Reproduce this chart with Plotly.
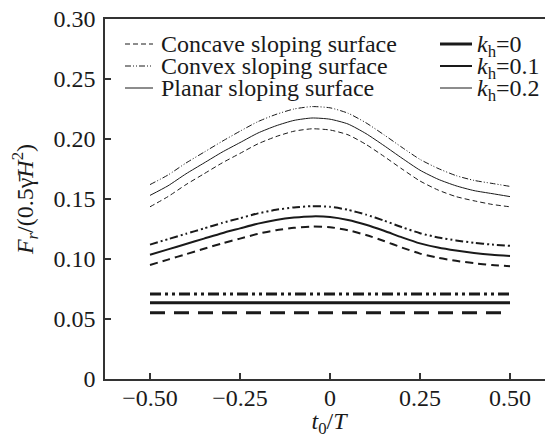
import plotly.graph_objects as go

# ---------------- data ----------------
t = [-0.50, -0.45, -0.40, -0.35, -0.30, -0.25, -0.20, -0.15, -0.10, -0.05, 0.00,
     0.05, 0.10, 0.15, 0.20, 0.25, 0.30, 0.35, 0.40, 0.45, 0.50]

# kh = 0.2
planar_02 = [0.153, 0.161, 0.171, 0.180, 0.189, 0.197, 0.205, 0.211, 0.2155, 0.2175, 0.2165,
             0.2125, 0.2045, 0.1945, 0.184, 0.174, 0.1665, 0.161, 0.157, 0.1545, 0.152]
convex_02 = [0.162, 0.170, 0.180, 0.189, 0.198, 0.2065, 0.2145, 0.2205, 0.225, 0.227, 0.226,
             0.2215, 0.2135, 0.2035, 0.193, 0.183, 0.1755, 0.1695, 0.1655, 0.163, 0.1605]
concave_02 = [0.1435, 0.152, 0.162, 0.171, 0.180, 0.188, 0.196, 0.202, 0.2065, 0.2085, 0.2075,
              0.2035, 0.1955, 0.1855, 0.175, 0.165, 0.1575, 0.152, 0.1485, 0.1455, 0.1435]

# kh = 0.1
planar_01 = [0.1035, 0.108, 0.1125, 0.117, 0.1215, 0.1255, 0.1295, 0.1325, 0.1345, 0.1355, 0.135,
             0.1325, 0.1285, 0.1235, 0.118, 0.113, 0.1095, 0.107, 0.105, 0.1035, 0.1025]
convex_01 = [0.112, 0.1165, 0.121, 0.1255, 0.130, 0.134, 0.138, 0.141, 0.143, 0.144, 0.1435,
             0.141, 0.137, 0.132, 0.1265, 0.1215, 0.118, 0.1155, 0.1135, 0.112, 0.111]
concave_01 = [0.095, 0.0995, 0.104, 0.1085, 0.113, 0.117, 0.121, 0.124, 0.126, 0.127, 0.1265,
              0.124, 0.120, 0.115, 0.1095, 0.1045, 0.101, 0.0985, 0.0965, 0.095, 0.094]

# kh = 0 (constant)
t_flat = [-0.50, 0.50]
planar_00 = [0.0636, 0.0636]
convex_00 = [0.0708, 0.0708]
concave_00 = [0.0553, 0.0553]

x_tickvals = [-0.50, -0.25, 0.0, 0.25, 0.50]
x_ticktext = ["\u22120.50", "\u22120.25", "0", "0.25", "0.50"]
y_tickvals = [0, 0.05, 0.10, 0.15, 0.20, 0.25, 0.30]
y_ticktext = ["0", "0.05", "0.10", "0.15", "0.20", "0.25", "0.30"]

surface_labels = ["Concave sloping surface", "Convex sloping surface", "Planar sloping surface"]
kh_labels = ["<i>k</i><sub>h</sub>=0", "<i>k</i><sub>h</sub>=0.1", "<i>k</i><sub>h</sub>=0.2"]

# ---------------- styling ----------------
FONT = "Liberation Serif"
INK = "#1a1a1a"
OFF = 8                      # default page body margin
W, H = 553 - OFF, 438 - OFF
L, R, T, B = 105 - OFF, 0, 19 - OFF, 59
PW, PH = W - L - R, H - T - B

dash_thin = {"concave": "5px,3px", "convex": "6px,2px,1px,2px,1px,2px", "planar": "solid"}
dash_mid = {"concave": "8px,5px", "convex": "8px,3px,2px,3px,2px,3px", "planar": "solid"}
dash_thick = {"concave": "15px,9px", "convex": "11px,4px,3px,4px,3px,4px", "planar": "solid"}

fig = go.Figure()

def add(x, y, dash, width):
    fig.add_trace(go.Scatter(x=x, y=y, mode="lines", showlegend=False, hoverinfo="skip",
                             line=dict(color=INK, width=width, dash=dash, shape="spline",
                                       smoothing=0.6)))

add(t, concave_02, dash_thin["concave"], 1)
add(t, convex_02, dash_thin["convex"], 1)
add(t, planar_02, dash_thin["planar"], 1)
add(t, concave_01, dash_mid["concave"], 2)
add(t, convex_01, dash_mid["convex"], 2)
add(t, planar_01, dash_mid["planar"], 2)
add(t_flat, concave_00, dash_thick["concave"], 3)
add(t_flat, convex_00, dash_thick["convex"], 3)
add(t_flat, planar_00, dash_thick["planar"], 3)

# ---------------- legend (paper coordinates, from page pixels) ----------------
def px2paper_x(px):
    return (px - OFF - L) / PW

def px2paper_y(py):
    return (H - B - (py - OFF)) / PH

rows = [44, 66, 88]
left_dashes = [dash_thin["concave"], dash_thin["convex"], "solid"]
right_widths = [3, 2, 1]
shapes = []
annotations = []
for i, py in enumerate(rows):
    shapes.append(dict(type="line", xref="paper", yref="paper",
                       x0=px2paper_x(125), x1=px2paper_x(153),
                       y0=px2paper_y(py), y1=px2paper_y(py),
                       line=dict(color=INK, width=1, dash=left_dashes[i])))
    annotations.append(dict(xref="paper", yref="paper", x=px2paper_x(159), y=px2paper_y(py),
                            xanchor="left", yanchor="middle", showarrow=False,
                            text=surface_labels[i], font=dict(family=FONT, size=24, color=INK)))
    shapes.append(dict(type="line", xref="paper", yref="paper",
                       x0=px2paper_x(440), x1=px2paper_x(472),
                       y0=px2paper_y(py), y1=px2paper_y(py),
                       line=dict(color=INK, width=right_widths[i])))
    annotations.append(dict(xref="paper", yref="paper", x=px2paper_x(475), y=px2paper_y(py + 2),
                            xanchor="left", yanchor="middle", showarrow=False,
                            text=kh_labels[i], font=dict(family=FONT, size=24, color=INK)))

x_left, x_right = -0.625, -0.625 + PW / 360.0

fig.update_layout(
    width=W, height=H,
    margin=dict(l=L, r=R, t=T, b=B, pad=0),
    paper_bgcolor="white", plot_bgcolor="white",
    font=dict(family=FONT, size=24, color=INK),
    shapes=shapes, annotations=annotations,
    xaxis=dict(range=[x_left, x_right], tickvals=x_tickvals, ticktext=x_ticktext,
               automargin=False, ticklabelstandoff=-4, ticklabeloverflow="allow",
               ticks="inside", ticklen=6, tickwidth=1.5, tickcolor="#333",
               showline=True, linecolor="#333", linewidth=1.5, mirror=True,
               showgrid=False, zeroline=False,
               tickfont=dict(family=FONT, size=24, color=INK),
               title=dict(text="<i>t</i><sub>0</sub>/<i>T</i>", standoff=13,
                          font=dict(family=FONT, size=24, color=INK))),
    yaxis=dict(range=[0, 0.30], tickvals=y_tickvals, ticktext=y_ticktext,
               automargin=False, ticklabelstandoff=3, ticklabeloverflow="allow",
               ticks="inside", ticklen=6, tickwidth=1.5, tickcolor="#333",
               showline=True, linecolor="#333", linewidth=1.5, mirror=False,
               showgrid=False, zeroline=False,
               tickfont=dict(family=FONT, size=24, color=INK),
               title=dict(text="<i>F</i><sub><i>r</i></sub>/(0.5\u03b3\u0304<i>H</i><sup>2</sup>)",
                          standoff=14, font=dict(family=FONT, size=24, color=INK))),
)

fig.write_html("out.html")
